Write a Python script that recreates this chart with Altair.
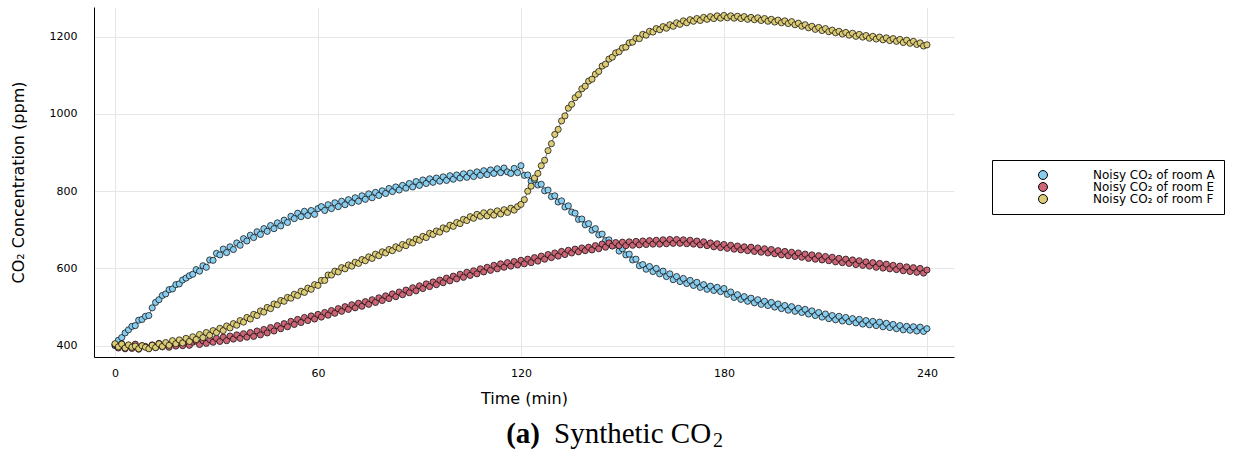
import altair as alt
import pandas as pd

# ---- data ----
minutes = list(range(0, 241))

room_a = [
    400, 414, 421, 433, 441, 450, 452, 466, 468, 476,
    478, 498, 512, 519, 530, 534, 545, 547, 558, 560,
    570, 575, 581, 585, 597, 593, 607, 603, 622, 621,
    639, 635, 650, 641, 656, 649, 666, 660, 677, 671,
    686, 680, 695, 688, 703, 696, 711, 703, 718, 710,
    725, 719, 735, 729, 743, 734, 748, 737, 750, 740,
    755, 760, 750, 765, 755, 770, 760, 774, 765, 778,
    770, 783, 774, 788, 779, 793, 783, 797, 789, 801,
    794, 807, 799, 811, 803, 815, 808, 820, 811, 825,
    815, 829, 820, 832, 823, 834, 826, 837, 828, 840,
    831, 842, 834, 845, 836, 847, 838, 850, 841, 853,
    843, 855, 846, 858, 848, 860, 850, 846, 859, 848,
    866, 841, 842, 826, 830, 816, 818, 801, 803, 786,
    788, 772, 775, 759, 762, 746, 743, 727, 728, 713,
    716, 699, 703, 687, 689, 672, 674, 659, 661, 645,
    651, 635, 637, 622, 624, 607, 610, 598, 605, 592,
    600, 586, 593, 579, 586, 571, 579, 566, 574, 561,
    569, 556, 564, 551, 558, 546, 554, 543, 551, 540,
    548, 533, 539, 525, 532, 520, 527, 515, 523, 511,
    519, 507, 515, 504, 512, 500, 508, 496, 504, 492,
    501, 489, 497, 486, 494, 482, 490, 478, 486, 474,
    482, 470, 478, 467, 476, 464, 473, 462, 470, 459,
    468, 456, 465, 454, 463, 452, 461, 449, 458, 447,
    455, 444, 452, 441, 450, 440, 449, 438, 448, 437,
    444,
]

room_e = [
    403, 394, 405, 392, 401, 393, 404, 391, 400, 398,
    393, 402, 395, 406, 397, 404, 396, 407, 399, 408,
    400, 410, 401, 409, 412, 403, 413, 406, 416, 409,
    419, 411, 422, 413, 425, 417, 428, 419, 431, 422,
    434, 424, 438, 428, 442, 433, 447, 438, 452, 444,
    457, 449, 463, 455, 468, 460, 473, 465, 477, 469,
    481, 474, 486, 479, 491, 484, 496, 489, 501, 494,
    506, 498, 510, 502, 514, 507, 519, 512, 524, 517,
    529, 522, 534, 527, 539, 532, 544, 537, 550, 542,
    555, 548, 560, 553, 565, 558, 570, 563, 575, 568,
    580, 573, 585, 577, 590, 582, 594, 586, 599, 591,
    603, 595, 608, 599, 612, 603, 615, 606, 618, 609,
    621, 612, 624, 615, 628, 619, 632, 624, 636, 628,
    640, 632, 644, 636, 647, 640, 650, 643, 653, 646,
    655, 648, 659, 651, 663, 655, 666, 658, 667, 659,
    668, 659, 669, 660, 670, 661, 671, 662, 672, 663,
    673, 663, 674, 664, 675, 665, 675, 665, 674, 664,
    673, 663, 671, 661, 669, 659, 666, 656, 664, 654,
    662, 652, 660, 650, 658, 648, 656, 646, 655, 644,
    653, 642, 651, 640, 649, 638, 646, 635, 644, 633,
    642, 631, 640, 629, 637, 626, 635, 624, 633, 622,
    631, 620, 629, 617, 626, 615, 624, 613, 622, 610,
    620, 608, 617, 606, 615, 603, 613, 601, 611, 599,
    608, 597, 606, 594, 604, 592, 602, 590, 600, 588,
    596,
]

room_f = [
    405, 397, 404, 394, 402, 396, 399, 392, 400, 396,
    392, 401, 395, 405, 398, 408, 401, 413, 405, 415,
    407, 419, 411, 423, 416, 429, 421, 434, 427, 439,
    434, 445, 439, 451, 446, 457, 453, 465, 461, 473,
    469, 481, 478, 490, 487, 499, 496, 508, 506, 517,
    515, 525, 523, 533, 530, 541, 538, 549, 546, 558,
    556, 569, 569, 583, 583, 593, 591, 602, 599, 609,
    606, 616, 613, 623, 620, 630, 626, 637, 633, 643,
    640, 649, 646, 656, 652, 662, 659, 669, 666, 676,
    673, 683, 680, 691, 688, 697, 694, 705, 702, 712,
    709, 719, 716, 727, 724, 734, 730, 740, 735, 744,
    736, 746, 738, 749, 741, 752, 745, 756, 751, 760,
    766, 778, 800, 813, 834, 846, 866, 880, 905, 923,
    947, 960, 982, 995, 1015, 1025, 1042, 1050, 1065, 1072,
    1085, 1090, 1103, 1110, 1124, 1129, 1142, 1147, 1158, 1161,
    1171, 1173, 1184, 1186, 1196, 1195, 1206, 1204, 1214, 1212,
    1221, 1218, 1226, 1222, 1231, 1227, 1236, 1232, 1241, 1236,
    1244, 1240, 1247, 1242, 1250, 1245, 1252, 1247, 1254, 1248,
    1255, 1249, 1254, 1248, 1253, 1247, 1252, 1245, 1250, 1244,
    1249, 1242, 1247, 1240, 1245, 1238, 1243, 1236, 1241, 1234,
    1239, 1231, 1235, 1227, 1231, 1223, 1227, 1219, 1224, 1216,
    1221, 1213, 1217, 1210, 1214, 1207, 1211, 1204, 1209, 1201,
    1206, 1199, 1203, 1196, 1201, 1194, 1199, 1192, 1197, 1190,
    1195, 1188, 1193, 1185, 1191, 1183, 1188, 1180, 1184, 1176,
    1179,
]

series_names = ["Noisy CO₂ of room A", "Noisy CO₂ of room E", "Noisy CO₂ of room F"]
series_colors = ["#88CCEE", "#CC6677", "#DDCC77"]
x_ticks = [0, 60, 120, 180, 240]
y_ticks = [400, 600, 800, 1000, 1200]
caption_bold = "(a)"
caption_text = "Synthetic CO"
caption_sub = "2"

rows = []
for order, (name, vals) in enumerate(zip(series_names, [room_a, room_e, room_f])):
    for t, v in zip(minutes, vals):
        rows.append({"t": t, "co2": v, "series": name, "order": order})
df = pd.DataFrame(rows)

FONT = "DejaVu Sans"

x_enc = alt.X(
    "t:Q",
    scale=alt.Scale(domain=[-6.2, 248.0], nice=False, zero=False),
    axis=alt.Axis(values=x_ticks, title="Time (min)", format="d"),
)
y_enc = alt.Y(
    "co2:Q",
    scale=alt.Scale(domain=[370.7, 1276.9], nice=False, zero=False),
    axis=alt.Axis(values=y_ticks, title="CO₂ Concentration (ppm)", format="d"),
)

color_enc = alt.Color(
    "series:N",
    scale=alt.Scale(domain=series_names, range=series_colors),
    legend=alt.Legend(
        title=None,
        orient="none",
        legendX=898,
        legendY=153,
        strokeColor="black",
        fillColor="white",
        padding=9,
        symbolOffset=36,
        labelOffset=44,
        symbolSize=80,
        symbolType="circle",
        symbolStrokeColor="black",
        symbolStrokeWidth=1,
        labelFont=FONT,
        labelFontSize=12,
        labelColor="black",
        rowPadding=0,
        clipHeight=12,
        cornerRadius=0,
    ),
)

lines = alt.Chart(df).mark_line(color="#222222", strokeWidth=0.8, opacity=0.8).encode(
    x=x_enc, y=y_enc, detail="series:N", order="t:Q"
)

points = alt.Chart(df).mark_circle(size=38, stroke="black", strokeWidth=0.7, opacity=1).encode(
    x=x_enc, y=y_enc, color=color_enc, order="order:Q"
)

cap_df = pd.DataFrame({"a": [caption_bold], "b": [caption_text], "c": [caption_sub]})
cap_a = alt.Chart(cap_df).mark_text(
    font="Liberation Serif", fontSize=29, fontWeight="bold", align="right", baseline="alphabetic", color="black"
).encode(text="a:N", x=alt.value(446), y=alt.value(436))
cap_b = alt.Chart(cap_df).mark_text(
    font="Liberation Serif", fontSize=29, align="left", baseline="alphabetic", color="black"
).encode(text="b:N", x=alt.value(460), y=alt.value(436))
cap_c = alt.Chart(cap_df).mark_text(
    font="Liberation Serif", fontSize=20, align="left", baseline="alphabetic", color="black"
).encode(text="c:N", x=alt.value(619), y=alt.value(440))

chart = (
    alt.layer(lines, points, cap_a, cap_b, cap_c)
    .properties(
        width=860,
        height=350,
        padding={"left": 94, "top": 7, "right": 282, "bottom": 96},
        autosize=alt.AutoSizeParams(type="none"),
        background="white",
    )
    .configure_view(stroke="transparent")
    .configure_axis(
        domainColor="black",
        domainWidth=1,
        gridColor="#e6e6e6",
        gridWidth=1,
        ticks=False,
        labelFont=FONT,
        labelFontSize=11,
        labelColor="black",
        titleFont=FONT,
        titleFontSize=16,
        titleFontWeight="normal",
        titleColor="black",
    )
    .configure_axisY(labelPadding=17, titlePadding=23)
    .configure_axisX(labelPadding=10, titlePadding=12)
)

chart.save("out.html", embed_options={"renderer": "svg", "actions": False})
